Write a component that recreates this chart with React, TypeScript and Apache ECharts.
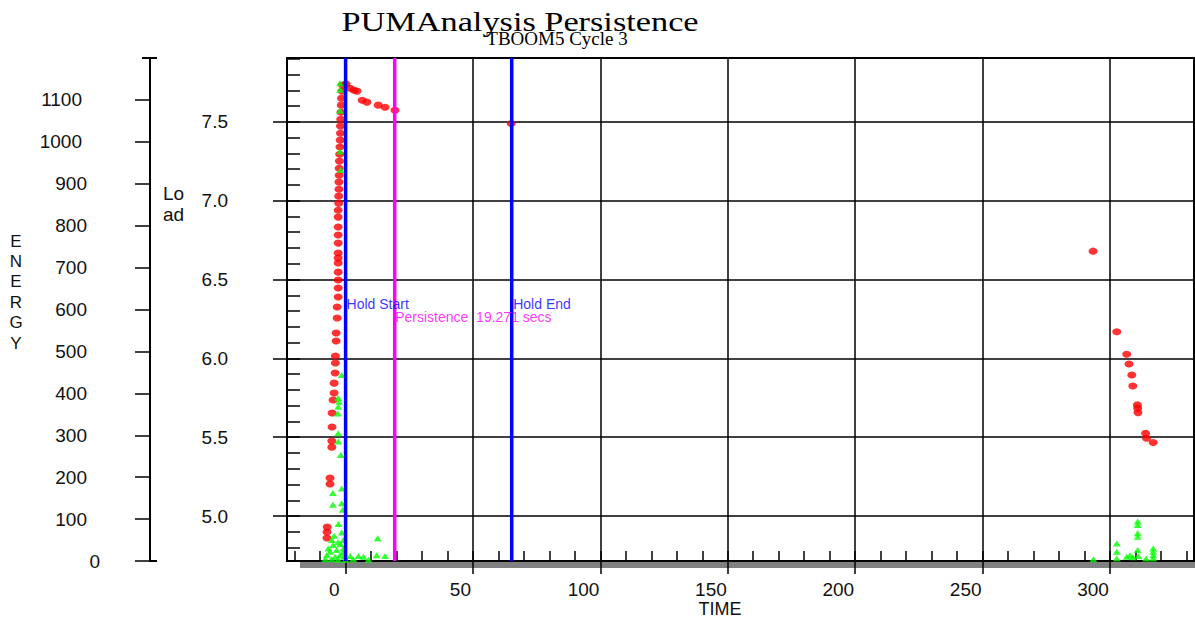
import React, { useEffect, useRef } from 'react';
import * as echarts from 'echarts';

const TITLE = 'PUMAnalysis Persistence';
const SUBTITLE = 'TBOOM5 Cycle 3';
const X_NAME = 'TIME';
const LOAD_NAME = 'Lo\nad';
const ENERGY_NAME = 'E\nN\nE\nR\nG\nY';

const TIME_MIN = -23;
const TIME_MAX = 333;
const LOAD_MIN = 4.715;
const LOAD_MAX = 7.905;
const ENERGY_MIN = 0;
const ENERGY_MAX = 1200;

const TIME_TICKS = [0, 50, 100, 150, 200, 250, 300];
const TIME_MINOR = [-20, -10, 0, 10, 20, 30, 40, 50, 60, 70, 80, 90, 100, 110, 120, 130, 140, 150, 160, 170, 180, 190, 200, 210, 220, 230, 240, 250, 260, 270, 280, 290, 300, 310, 320, 330];
const LOAD_TICKS = [5.0, 5.5, 6.0, 6.5, 7.0, 7.5];
const LOAD_MINOR = [4.8, 4.9, 5.0, 5.1, 5.2, 5.3, 5.4, 5.5, 5.6, 5.7, 5.8, 5.9, 6.0, 6.1, 6.2, 6.3, 6.4, 6.5, 6.6, 6.7, 6.8, 6.9, 7.0, 7.1, 7.2, 7.3, 7.4, 7.5, 7.6, 7.7, 7.8, 7.9];
const ENERGY_TICKS = [0, 100, 200, 300, 400, 500, 600, 700, 800, 900, 1000, 1100];

const HOLD_START = 0;
const PERSIST_END = 19.271;
const HOLD_END = 65.2;
const MARKER_LABEL_Y = 6.347;
const PERSIST_LABEL_Y = 6.26;

// [time, load]
const LOAD_POINTS = [
  [-7.3, 4.861], [-7.3, 4.899], [-7.2, 4.93],
  [-6.1, 5.203], [-6.1, 5.241],
  [-5.4, 5.437], [-5.4, 5.476], [-5.3, 5.565], [-5.3, 5.654],
  [-4.9, 5.736], [-4.5, 5.78], [-4.5, 5.843],
  [-4.1, 5.907], [-4.0, 5.971], [-4.0, 6.015],
  [-3.7, 6.11], [-3.7, 6.161],
  [-3.3, 6.256], [-3.3, 6.326],
  [-2.9, 6.389], [-2.9, 6.446], [-2.9, 6.497], [-2.9, 6.547], [-2.9, 6.605], [-2.9, 6.636], [-2.9, 6.668],
  [-2.9, 6.731], [-2.9, 6.782], [-2.9, 6.833], [-2.9, 6.896], [-2.9, 6.94],
  [-2.7, 6.984], [-2.7, 7.029], [-2.6, 7.073], [-2.6, 7.118], [-2.5, 7.162], [-2.5, 7.206], [-2.4, 7.251],
  [-2.3, 7.295], [-2.2, 7.34], [-2.1, 7.384], [-2.0, 7.428], [-2.0, 7.473], [-1.9, 7.517], [-1.8, 7.561],
  [-1.7, 7.606], [-1.6, 7.65], [-1.4, 7.695], [-1.2, 7.733],
  [0.2, 7.74], [1.8, 7.713], [3.3, 7.7], [4.5, 7.695], [6.5, 7.637], [8.4, 7.625], [12.8, 7.606], [15.5, 7.593], [19.4, 7.574],
  [65.0, 7.49],
  [293.4, 6.68],
  [302.7, 6.169], [306.6, 6.026], [307.5, 5.964], [308.6, 5.895], [309.0, 5.825], [310.8, 5.705], [310.9, 5.684],
  [311.0, 5.656], [314.0, 5.525], [314.4, 5.494], [317.0, 5.466],
];

// [time, energy]
const ENERGY_POINTS = [
  [-2.2, 1140], [-2.2, 1124], [-2.2, 1074], [-2.2, 977], [-1.9, 933],
  [-1.5, 444], [-2.9, 389], [-2.6, 380], [-2.9, 368], [-3.1, 352], [-2.9, 305], [-2.9, 285], [-1.9, 253],
  [-1.5, 173], [-5.0, 162], [-5.0, 134], [-1.5, 138], [-1.1, 122], [-2.8, 88], [-1.5, 68],
  [-5.4, 50], [-4.9, 38], [-6.1, 22], [-3.5, 26], [-0.9, 30], [-0.9, 50], [-7.4, 14], [-2.2, 14],
  [-4.1, 10], [-0.6, 10], [-6.8, 30], [-3.0, 45], [-4.5, 60], [-2.0, 40], [-1.0, 20], [-5.5, 5],
  [-3.0, 3], [0.0, 3], [-8.0, 4], [1.8, 12], [3.0, 4], [5.0, 12], [7.0, 10], [9.0, 3],
  [12.6, 54], [12.2, 14], [15.5, 12],
  [293.5, 4], [302.7, 42], [302.7, 22], [302.7, 6], [306.6, 10], [307.9, 14], [309.0, 9],
  [310.9, 94], [310.9, 86], [310.9, 66], [310.9, 58], [310.9, 26], [311.1, 12],
  [314.2, 6], [317.0, 30], [317.0, 22], [317.0, 14], [317.0, 6],
];

const SANS = '"Liberation Sans", Arial, sans-serif';
const SERIF = '"Liberation Serif", "Times New Roman", serif';

export default function App() {
  const ref = useRef<HTMLDivElement>(null);

  useEffect(() => {
    document.body.style.margin = '0';
    if (!ref.current) return;
    const chart = echarts.init(ref.current, undefined, { renderer: 'svg' });

    const tickLine = { color: '#000', width: 1.5 };

    const vline = (x: number, color: string) => ({
      type: 'line',
      xAxisIndex: 0,
      yAxisIndex: 0,
      data: [[x, LOAD_MIN], [x, LOAD_MAX]],
      symbol: 'none',
      lineStyle: { color, width: 3.5 },
      silent: true,
      z: 6,
    });

    const markerLabel = (x: number, y: number, text: string, color: string, dist: number) => ({
      type: 'scatter',
      xAxisIndex: 0,
      yAxisIndex: 0,
      data: [[x, y]],
      symbolSize: 0,
      silent: true,
      z: 7,
      label: {
        show: true,
        position: 'right',
        distance: dist,
        formatter: text,
        color,
        fontSize: 14,
        fontFamily: SANS,
      },
    });

    const option = {
      animation: false,
      backgroundColor: '#fff',
      grid: {
        left: 287,
        right: 1,
        top: 58,
        bottom: 57,
        show: true,
        borderColor: '#000',
        borderWidth: 2,
        backgroundColor: 'transparent',
      },
      xAxis: [
        {
          type: 'value',
          min: TIME_MIN,
          max: TIME_MAX,
          position: 'bottom',
          axisLine: { show: true, onZero: false, lineStyle: { color: '#000', width: 2 } },
          axisTick: { show: true, customValues: TIME_TICKS, length: 13, inside: false, lineStyle: tickLine },
          axisLabel: {
            show: true,
            customValues: TIME_TICKS,
            margin: 19,
            align: 'right',
            formatter: (v: number) => `{t${String(v).length}|${v}}`,
            rich: {
              t1: { fontSize: 19, fontFamily: SANS, color: '#111', padding: [0, 6, 0, 0] },
              t2: { fontSize: 19, fontFamily: SANS, color: '#111', padding: [0, 2, 0, 0] },
              t3: { fontSize: 19, fontFamily: SANS, color: '#111', padding: [0, 1, 0, 0] },
            },
          },
          splitLine: { show: true, lineStyle: { color: '#000', width: 1.5 } },
        },
        {
          type: 'value',
          min: TIME_MIN,
          max: TIME_MAX,
          position: 'bottom',
          axisLine: { show: false, onZero: false },
          axisTick: { show: true, customValues: TIME_MINOR, length: 10, inside: true, lineStyle: tickLine },
          axisLabel: { show: false },
          splitLine: { show: false },
        },
      ],
      yAxis: [
        {
          type: 'value',
          min: LOAD_MIN,
          max: LOAD_MAX,
          position: 'left',
          axisLine: { show: true, onZero: false, lineStyle: { color: '#000', width: 2 } },
          axisTick: { show: true, customValues: LOAD_TICKS, length: 14, inside: false, lineStyle: tickLine },
          axisLabel: {
            show: true,
            customValues: LOAD_TICKS,
            margin: 59,
            fontSize: 19,
            fontFamily: SANS,
            color: '#111',
            formatter: (v: number) => v.toFixed(1),
          },
          splitLine: { show: true, lineStyle: { color: '#000', width: 1.5 } },
        },
        {
          type: 'value',
          min: LOAD_MIN,
          max: LOAD_MAX,
          position: 'left',
          axisLine: { show: false, onZero: false },
          axisTick: { show: true, customValues: LOAD_MINOR, length: 13, inside: true, lineStyle: tickLine },
          axisLabel: { show: false },
          splitLine: { show: false },
        },
        {
          type: 'value',
          min: ENERGY_MIN,
          max: ENERGY_MAX,
          position: 'left',
          offset: 137,
          axisLine: { show: true, onZero: false, lineStyle: { color: '#000', width: 2 } },
          axisTick: { show: true, customValues: ENERGY_TICKS, length: 15, inside: false, lineStyle: tickLine },
          axisLabel: {
            show: true,
            customValues: ENERGY_TICKS,
            margin: 50,
            formatter: (v: number) => `{e${String(v).length}|${v}}`,
            rich: {
              e1: { fontSize: 19, fontFamily: SANS, color: '#111', padding: [0, 0, 0, 0] },
              e3: { fontSize: 19, fontFamily: SANS, color: '#111', padding: [0, 13, 0, 0] },
              e4: { fontSize: 19, fontFamily: SANS, color: '#111', padding: [0, 18, 0, 0] },
            },
          },
          splitLine: { show: false },
        },
      ],
      graphic: [
        {
          type: 'rect',
          shape: { x: 300, y: 562, width: 895, height: 6 },
          style: { fill: '#808080' },
          z: 0,
          silent: true,
        },
        {
          type: 'line',
          shape: { x1: 142, y1: 58, x2: 157, y2: 58 },
          style: { stroke: '#000', lineWidth: 2 },
          silent: true,
        },
        {
          type: 'line',
          shape: { x1: 150, y1: 561, x2: 157, y2: 561 },
          style: { stroke: '#000', lineWidth: 2 },
          silent: true,
        },
        {
          type: 'text',
          x: 520,
          y: 22,
          scaleX: 1.27,
          style: { text: TITLE, fontSize: 27, fontFamily: SERIF, fill: '#000', align: 'center', verticalAlign: 'middle' },
          silent: true,
        },
        {
          type: 'text',
          x: 557,
          y: 38,
          style: { text: SUBTITLE, fontSize: 19, fontFamily: SERIF, fill: '#000', align: 'center', verticalAlign: 'middle' },
          silent: true,
        },
        {
          type: 'text',
          x: 720,
          y: 609,
          style: { text: X_NAME, fontSize: 18, fontFamily: SANS, fill: '#111', align: 'center', verticalAlign: 'middle' },
          silent: true,
        },
        {
          type: 'text',
          x: 163,
          y: 204,
          style: { text: LOAD_NAME, fontSize: 19, lineHeight: 21, fontFamily: SANS, fill: '#111', align: 'left', verticalAlign: 'middle' },
          silent: true,
        },
        {
          type: 'text',
          x: 16,
          y: 292,
          style: { text: ENERGY_NAME, fontSize: 17, lineHeight: 20.4, fontFamily: SANS, fill: '#111', align: 'center', verticalAlign: 'middle' },
          silent: true,
        },
      ],
      series: [
        {
          type: 'scatter',
          name: 'Load',
          xAxisIndex: 0,
          yAxisIndex: 0,
          data: LOAD_POINTS,
          symbol: 'circle',
          symbolSize: [9, 7],
          itemStyle: { color: '#ff0000' },
          silent: true,
          z: 3,
        },
        {
          type: 'scatter',
          name: 'Energy',
          xAxisIndex: 0,
          yAxisIndex: 2,
          data: ENERGY_POINTS,
          symbol: 'triangle',
          symbolSize: [8, 6],
          itemStyle: { color: '#00ff00' },
          silent: true,
          z: 4,
        },
        vline(HOLD_START, '#0000ff'),
        vline(PERSIST_END, '#ff00ff'),
        vline(HOLD_END, '#0000ff'),
        markerLabel(HOLD_START, MARKER_LABEL_Y, 'Hold Start', '#0000ff', 1),
        markerLabel(PERSIST_END, PERSIST_LABEL_Y, 'Persistence  19.271 secs', '#ff00ff', 0.5),
        markerLabel(HOLD_END, MARKER_LABEL_Y, 'Hold End', '#0000ff', 1.5),
      ],
    };

    chart.setOption(option as any);
    return () => chart.dispose();
  }, []);

  return <div ref={ref} style={{ width: 1195, height: 618 }} />;
}
